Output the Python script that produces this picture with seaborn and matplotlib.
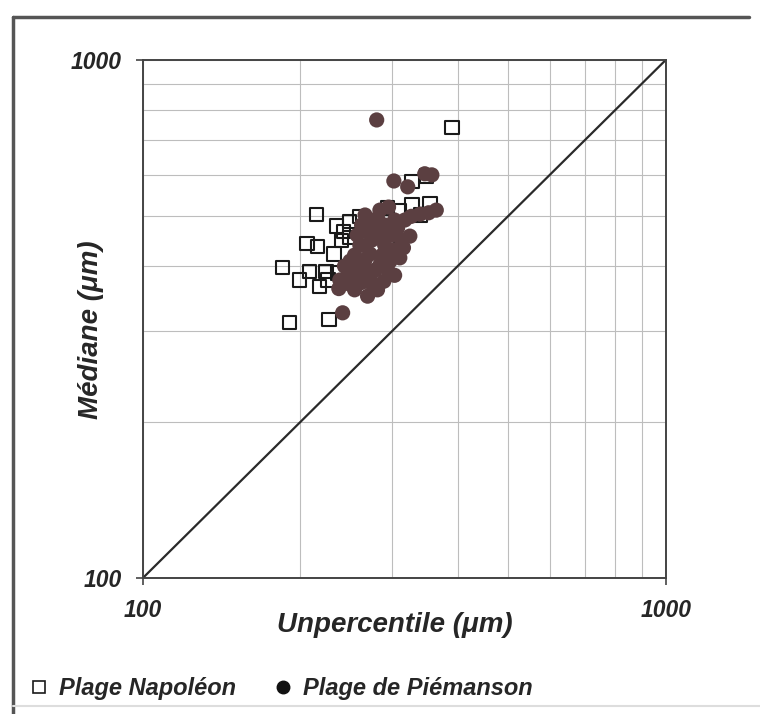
import numpy as np
import pandas as pd
import matplotlib
matplotlib.use('Agg')
import matplotlib.pyplot as plt
import seaborn as sns
from matplotlib.lines import Line2D

# Plage Napoléon (open squares)
nap_x = [390, 215, 206, 216, 232, 235, 242, 249, 240, 185, 208, 199, 224, 236, 218,
         226, 191, 227, 294, 327, 354, 310, 327, 349, 293, 260, 273, 248, 339]
nap_y = [742, 503, 443, 437, 422, 478, 466, 455, 449, 398, 390, 376, 390, 388, 365,
         376, 311, 315, 518, 525, 527, 513, 582, 597, 434, 498, 487, 487, 502]

# Plage de Piémanson (filled circles)
pie_x = [280, 241, 302, 321, 357, 346,
         237, 243, 238, 249, 254, 247, 243, 257, 260, 267, 272, 274, 281, 278,
         284, 266, 272, 267, 274, 268, 278, 272, 281, 290, 284, 290, 287, 297,
         295, 289, 299, 303, 307, 317, 326, 339, 352, 364, 313, 324, 315, 303,
         262, 254, 295, 284, 260, 254, 249, 262, 266, 257, 269, 303, 310]
pie_y = [766, 325, 584, 569, 600, 603,
         362, 370, 376, 376, 382, 393, 400, 400, 390, 393, 382, 370, 360, 393,
         402, 411, 422, 437, 449, 466, 474, 487, 495, 480, 459, 439, 420, 409,
         390, 374, 459, 491, 474, 491, 499, 504, 507, 513, 449, 457, 434, 430,
         372, 360, 520, 513, 439, 420, 409, 480, 502, 459, 350, 384, 415]

diag = [100, 1000]
ticks = [100, 1000]
tick_labels = ['100', '1000']
minor_ticks = [200, 300, 400, 500, 600, 700, 800, 900]
legend_labels = ['Plage Napoléon', 'Plage de Piémanson']

nap = pd.DataFrame({'Unpercentile': nap_x, 'Mediane': nap_y})
pie = pd.DataFrame({'Unpercentile': pie_x, 'Mediane': pie_y})

sns.set_style('white')
plt.rcParams['font.family'] = ['Liberation Sans', 'DejaVu Sans']

fig = plt.figure(figsize=(7.6, 7.14), dpi=100)
ax = fig.add_axes([0.188, 0.1905, 0.688, 0.7255])
ax.set_xscale('log')
ax.set_yscale('log')

sns.lineplot(x=diag, y=diag, ax=ax, color='#2a2a2a', lw=1.6, zorder=2)
sns.scatterplot(data=nap, x='Unpercentile', y='Mediane', ax=ax, marker='s', s=90,
                facecolor='none', edgecolor='#1a1a1a', linewidth=1.5, zorder=3)
sns.scatterplot(data=pie, x='Unpercentile', y='Mediane', ax=ax, marker='o', s=120,
                color='#5b3f41', edgecolor='none', linewidth=0, zorder=4)

ax.set_xlim(100, 1000)
ax.set_ylim(100, 1000)
ax.set_xticks(ticks)
ax.set_xticklabels(tick_labels)
ax.set_yticks(ticks)
ax.set_yticklabels(tick_labels)
ax.set_xticks(minor_ticks, minor=True)
ax.set_yticks(minor_ticks, minor=True)
ax.xaxis.set_minor_formatter(plt.NullFormatter())
ax.yaxis.set_minor_formatter(plt.NullFormatter())
ax.grid(which='both', color='#bdbdbd', lw=0.8)
ax.set_axisbelow(True)
ax.tick_params(which='minor', length=0)
ax.tick_params(which='major', length=5, width=1.2, color='#444', direction='out',
               pad=10, bottom=True, left=True)
for lab in ax.get_xticklabels() + ax.get_yticklabels():
    lab.set_fontsize(16.5)
    lab.set_fontweight('bold')
    lab.set_fontstyle('italic')
for sp in ax.spines.values():
    sp.set_color('#444')
    sp.set_linewidth(1.4)

ax.set_xlabel('Unpercentile (μm)', fontsize=20, fontweight='bold', fontstyle='italic',
              va='center')
ax.xaxis.set_label_coords(0.482, -0.09)
ax.set_ylabel('Médiane (μm)', fontsize=20, fontweight='bold', fontstyle='italic',
              va='center')
ax.yaxis.set_label_coords(-0.1, 0.479)

handles = [Line2D([], [], marker='s', ls='', mfc='white', mec='#1a1a1a', ms=9, mew=1.2),
           Line2D([], [], marker='o', ls='', color='#111111', ms=9)]
fig.legend(handles=handles, labels=legend_labels, loc='center left',
           bbox_to_anchor=(0.008, 0.036), ncol=2, frameon=False,
           prop=dict(size=17, weight='bold', style='italic'),
           handletextpad=0.35, columnspacing=1.5, handlelength=1.0)

# outer frame of the figure
fig.add_artist(Line2D([0.017, 0.985], [0.976, 0.976], transform=fig.transFigure,
                      color='#555555', lw=2.5))
fig.add_artist(Line2D([0.017, 0.017], [0.0, 0.976], transform=fig.transFigure,
                      color='#555555', lw=2.5))
fig.add_artist(Line2D([0.017, 1.0], [0.011, 0.011], transform=fig.transFigure,
                      color='#dddddd', lw=1.5))

fig.savefig('out.png', dpi=100)
